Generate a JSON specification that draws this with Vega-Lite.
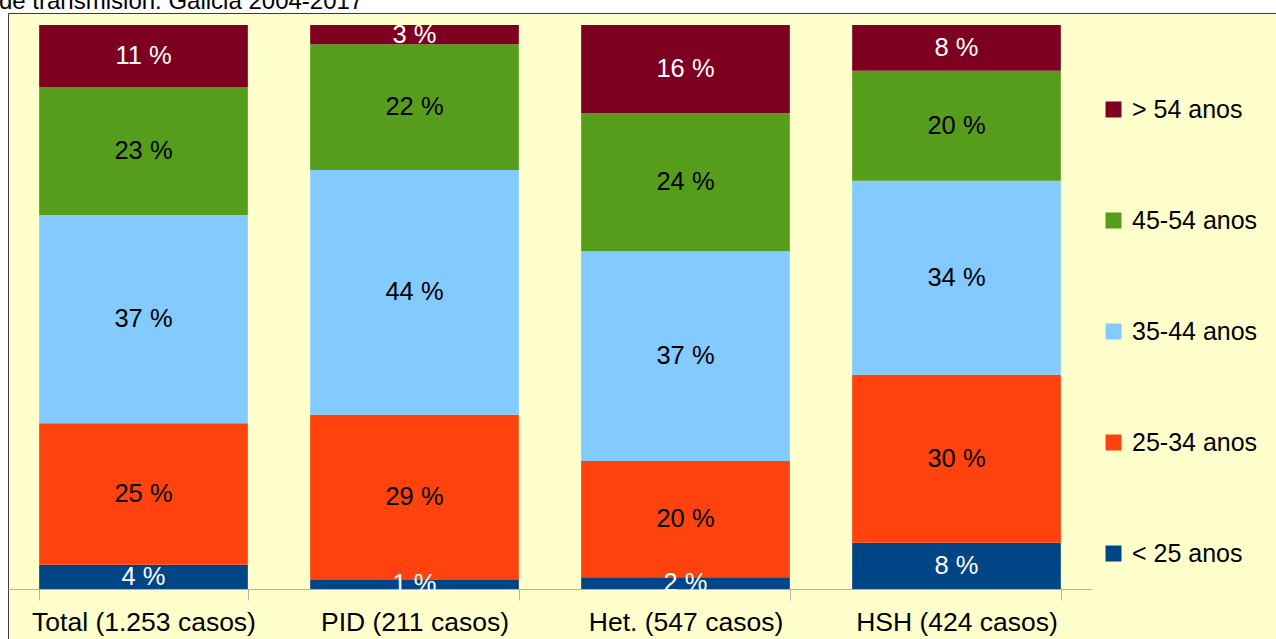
{
  "$schema": "https://vega.github.io/schema/vega-lite/v6.json",
  "width": 1268,
  "height": 626,
  "autosize": {"type": "none"},
  "padding": {"left": 8, "top": 13, "right": 0, "bottom": 0},
  "background": "white",
  "title": {"text": "de transmisión. Galicia 2004-2017", "anchor": "start", "frame": "group", "font": "Liberation Sans", "fontSize": 24, "fontWeight": "normal", "color": "black", "offset": -25, "baseline": "bottom", "dx": -9},
  "config": {"view": {"fill": "#FFFFCC", "stroke": "#3a3a3a", "strokeWidth": 1}, "font": "Liberation Sans"},
  "data": {"values": [
    {"grupo": "Total (1.253 casos)", "idade": "< 25 anos", "ord": 1, "pct": 4.3, "label": "4 %"},
    {"grupo": "Total (1.253 casos)", "idade": "25-34 anos", "ord": 2, "pct": 25.1, "label": "25 %"},
    {"grupo": "Total (1.253 casos)", "idade": "35-44 anos", "ord": 3, "pct": 36.9, "label": "37 %"},
    {"grupo": "Total (1.253 casos)", "idade": "45-54 anos", "ord": 4, "pct": 22.7, "label": "23 %"},
    {"grupo": "Total (1.253 casos)", "idade": "> 54 anos", "ord": 5, "pct": 11.0, "label": "11 %"},
    {"grupo": "PID (211 casos)", "idade": "< 25 anos", "ord": 1, "pct": 1.6, "label": "1 %"},
    {"grupo": "PID (211 casos)", "idade": "25-34 anos", "ord": 2, "pct": 29.3, "label": "29 %"},
    {"grupo": "PID (211 casos)", "idade": "35-44 anos", "ord": 3, "pct": 43.4, "label": "44 %"},
    {"grupo": "PID (211 casos)", "idade": "45-54 anos", "ord": 4, "pct": 22.3, "label": "22 %"},
    {"grupo": "PID (211 casos)", "idade": "> 54 anos", "ord": 5, "pct": 3.4, "label": "3 %"},
    {"grupo": "Het. (547 casos)", "idade": "< 25 anos", "ord": 1, "pct": 2.1, "label": "2 %"},
    {"grupo": "Het. (547 casos)", "idade": "25-34 anos", "ord": 2, "pct": 20.6, "label": "20 %"},
    {"grupo": "Het. (547 casos)", "idade": "35-44 anos", "ord": 3, "pct": 37.2, "label": "37 %"},
    {"grupo": "Het. (547 casos)", "idade": "45-54 anos", "ord": 4, "pct": 24.5, "label": "24 %"},
    {"grupo": "Het. (547 casos)", "idade": "> 54 anos", "ord": 5, "pct": 15.6, "label": "16 %"},
    {"grupo": "HSH (424 casos)", "idade": "< 25 anos", "ord": 1, "pct": 8.2, "label": "8 %"},
    {"grupo": "HSH (424 casos)", "idade": "25-34 anos", "ord": 2, "pct": 29.8, "label": "30 %"},
    {"grupo": "HSH (424 casos)", "idade": "35-44 anos", "ord": 3, "pct": 34.4, "label": "34 %"},
    {"grupo": "HSH (424 casos)", "idade": "45-54 anos", "ord": 4, "pct": 19.5, "label": "20 %"},
    {"grupo": "HSH (424 casos)", "idade": "> 54 anos", "ord": 5, "pct": 8.1, "label": "8 %"}
  ]},
  "encoding": {
    "x": {
      "field": "grupo", "type": "nominal", "sort": null,
      "scale": {"range": [0, 1084], "paddingInner": 0.23, "paddingOuter": 0.115},
      "axis": {"title": null, "labelAngle": 0, "labelFontSize": 26.5, "labelLimit": 0, "labelColor": "black", "labelFont": "Liberation Sans", "labelPadding": 9, "tickBand": "extent", "tickSize": 11, "tickColor": "#b3b3b3", "domainColor": "#b3b3b3", "offset": -50, "grid": false}
    }
  },
  "layer": [
    {
      "mark": {"type": "bar"},
      "encoding": {
        "y": {"field": "pct", "type": "quantitative", "stack": "normalize", "scale": {"range": [576, 12]}, "axis": null},
        "order": {"field": "ord", "type": "quantitative"},
        "color": {
          "field": "idade", "type": "nominal",
          "scale": {"domain": ["> 54 anos", "45-54 anos", "35-44 anos", "25-34 anos", "< 25 anos"], "range": ["#7E0021", "#579D1C", "#83CAFF", "#FF420E", "#004586"]},
          "legend": {"orient": "none", "legendX": 1093, "legendY": 84, "title": null, "symbolType": "square", "symbolSize": 256, "symbolStrokeWidth": 0, "labelFontSize": 25, "labelFont": "Liberation Sans", "labelColor": "black", "labelOffset": 6, "rowPadding": 85, "padding": 0, "labelLimit": 0}
        }
      }
    },
    {
      "mark": {"type": "text", "fontSize": 25.5, "font": "Liberation Sans", "baseline": "middle"},
      "encoding": {
        "y": {"field": "pct", "type": "quantitative", "stack": "normalize", "bandPosition": 0.5},
        "order": {"field": "ord", "type": "quantitative"},
        "text": {"field": "label"},
        "color": {"condition": {"test": "datum.ord == 1 || datum.ord == 5", "value": "white"}, "value": "black"}
      }
    }
  ]
}
